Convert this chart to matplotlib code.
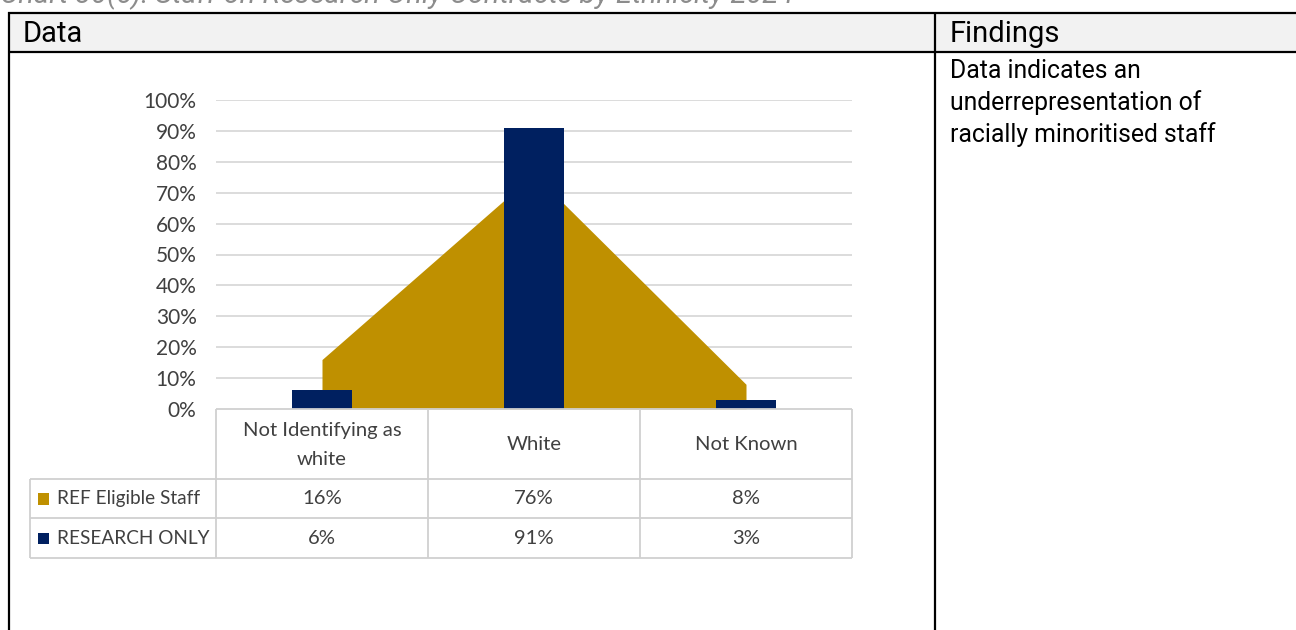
import matplotlib
matplotlib.use("Agg")
import matplotlib.pyplot as plt
from matplotlib.lines import Line2D
from matplotlib.patches import Rectangle

# ---- data ----
categories = ["Not Identifying as\nwhite", "White", "Not Known"]
ref_eligible = [16, 76, 8]          # % REF Eligible Staff
research_only = [6, 91, 3]          # % RESEARCH ONLY
series_names = ["REF Eligible Staff", "RESEARCH ONLY"]
y_ticks = [0, 10, 20, 30, 40, 50, 60, 70, 80, 90, 100]
findings = "Data indicates an\nunderrepresentation of\nracially minoritised staff"
title = "Chart 30(c): Staff on Research Only Contracts by Ethnicity 2024"

GOLD = "#bf9000"
NAVY = "#002060"
GRID = "#d9d9d9"
TXT = "#404040"

W, H = 1296, 630
fig = plt.figure(figsize=(W / 100, H / 100), dpi=100)
fig.patch.set_facecolor("white")


def fx(x):
    return x / W


def fy(y):
    return 1 - y / H


def hline(y, x0, x1, color, lw):
    fig.add_artist(Line2D([fx(x0), fx(x1)], [fy(y), fy(y)], color=color, lw=lw,
                          transform=fig.transFigure, solid_capstyle="butt"))


def vline(x, y0, y1, color, lw):
    fig.add_artist(Line2D([fx(x), fx(x)], [fy(y0), fy(y1)], color=color, lw=lw,
                          transform=fig.transFigure, solid_capstyle="butt"))


# ---- page title (runs off the top edge) ----
fig.text(fx(0), fy(3), title, fontsize=21, style="italic", color="#8c8c8c",
         family="Roboto", ha="left", va="baseline")

# ---- outer layout frame ----
fig.add_artist(Rectangle((fx(9), fy(52)), fx(W - 9), fy(13) - fy(52),
                         transform=fig.transFigure, facecolor="#f2f2f2",
                         edgecolor="none", zorder=0))
hline(13, 8, W, "black", 1.6)
hline(52, 8, W, "black", 1.6)
vline(9, 12, H, "black", 1.6)
vline(935, 12, H, "black", 1.6)

fig.text(fx(23), fy(34), "Data", fontsize=21, family="Roboto", color="black",
         ha="left", va="center")
fig.text(fx(950), fy(34), "Findings", fontsize=21, family="Roboto", color="black",
         ha="left", va="center")
for i, line in enumerate(findings.split("\n")):
    fig.text(fx(950), fy(71 + 32 * i), line, fontsize=17.8, family="Roboto",
             color="black", ha="left", va="center")

# ---- chart ----
left, right, top, bottom = 216, 852, 100, 409
ax = fig.add_axes([fx(left), fy(bottom), fx(right - left), fy(top) - fy(bottom)])
x = list(range(len(categories)))
ax.fill_between(x, ref_eligible, 0, color=GOLD, lw=0, zorder=2)
ax.bar(x, research_only, width=0.285, color=NAVY, zorder=3)
ax.set_xlim(-0.5, len(categories) - 0.5)
ax.set_ylim(0, 100)
ax.set_yticks(y_ticks)
ax.set_yticklabels([f"{t}%" for t in y_ticks], fontsize=15, color=TXT, family="Lato")
ax.tick_params(axis="y", length=0, pad=14)
ax.set_xticks([])
for t in y_ticks[1:]:
    ax.axhline(t, color=GRID, lw=1.3, zorder=1)
for s in ax.spines.values():
    s.set_visible(False)
ax.set_facecolor("none")

# ---- data table below the chart ----
TL = "#d0d0d0"
FS = 14.6
col_edges = [216, 428, 640, 852]
row_edges = [409, 479, 518, 558]
for cx in col_edges:
    vline(cx, row_edges[0], row_edges[-1], TL, 1.3)
vline(30, row_edges[1], row_edges[-1], TL, 1.3)
hline(row_edges[0], col_edges[0], col_edges[-1], TL, 1.3)
for ry in row_edges[1:]:
    hline(ry, 30, col_edges[-1], TL, 1.3)

centers = [(col_edges[i] + col_edges[i + 1]) / 2 for i in range(len(categories))]
for cx, cat in zip(centers, categories):
    fig.text(fx(cx), fy(445), cat, fontsize=FS, family="Lato", color=TXT,
             ha="center", va="center", linespacing=1.8)

for row, (name, vals, col) in enumerate(zip(series_names, [ref_eligible, research_only], [GOLD, NAVY])):
    yc = (row_edges[row + 1] + row_edges[row + 2]) / 2
    fig.add_artist(Rectangle((fx(38), fy(yc + 6)), fx(11), fy(yc - 5) - fy(yc + 6),
                             transform=fig.transFigure, facecolor=col, edgecolor="none"))
    fig.text(fx(57), fy(yc), name, fontsize=13.7, family="Lato", color=TXT,
             ha="left", va="center")
    for cx, v in zip(centers, vals):
        fig.text(fx(cx), fy(yc), f"{v}%", fontsize=FS, family="Lato", color=TXT,
                 ha="center", va="center")

fig.savefig("out.png", dpi=100)
